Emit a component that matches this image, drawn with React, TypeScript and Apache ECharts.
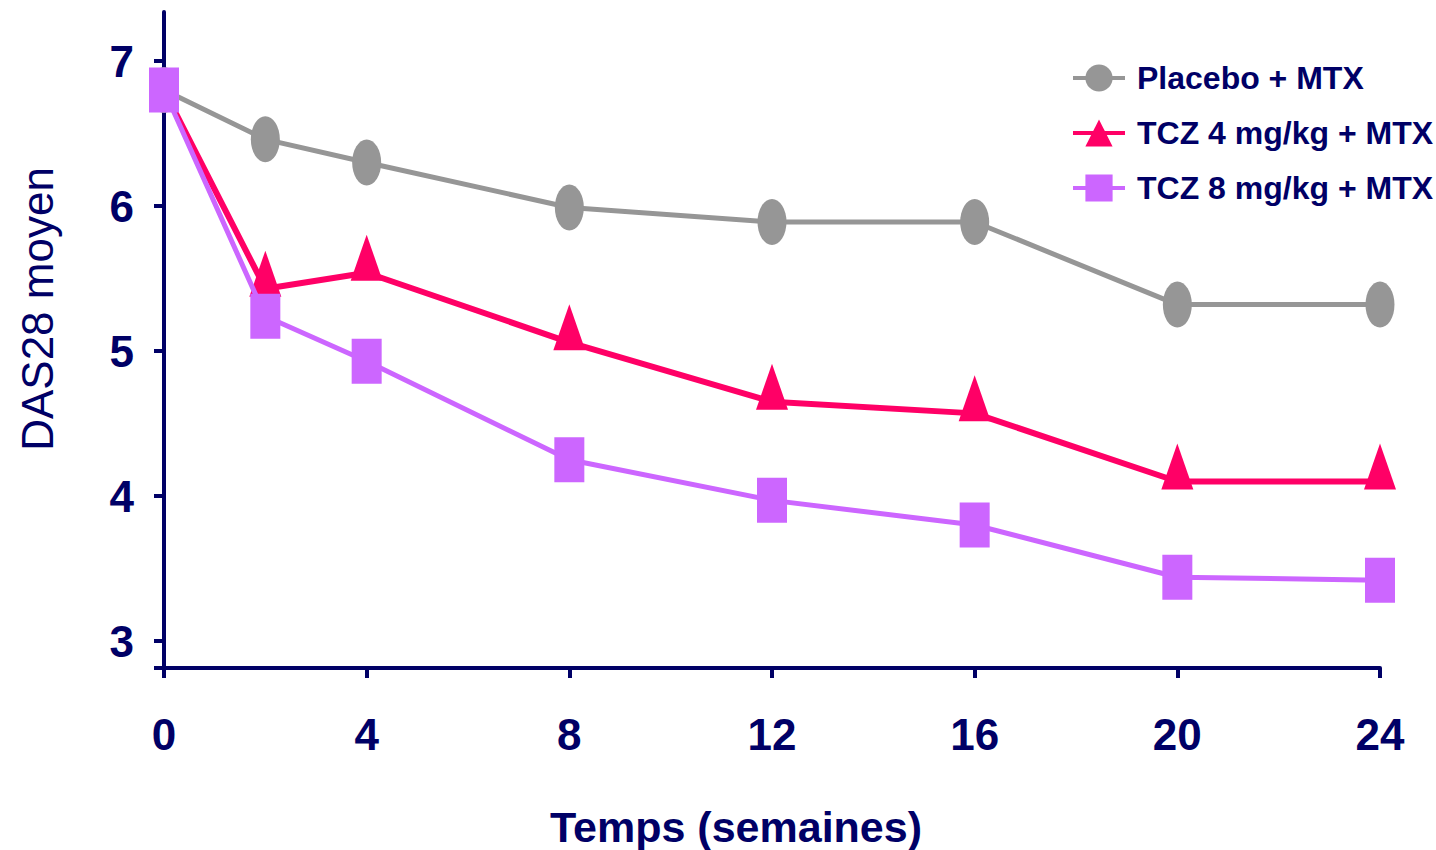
import React, { useEffect, useRef } from "react";
import * as echarts from "echarts";

const weeks = [0, 2, 4, 8, 12, 16, 20, 24];
const placebo = [6.8, 6.46, 6.3, 5.99, 5.89, 5.89, 5.32, 5.32];
const tcz4 = [6.8, 5.43, 5.54, 5.06, 4.65, 4.57, 4.1, 4.1];
const tcz8 = [6.8, 5.24, 4.93, 4.25, 3.97, 3.8, 3.44, 3.42];
const seriesNames = ["Placebo + MTX", "TCZ 4 mg/kg + MTX", "TCZ 8 mg/kg + MTX"];
const yTickLabels = [3, 4, 5, 6, 7];
const xTitle = "Temps (semaines)";
const yTitle = "DAS28 moyen";

const NAVY = "#000066";
const FONT = "Liberation Sans, Arial, sans-serif";
const ELLIPSE = "path://M0,-1 A1,1 0 1,1 0,1 A1,1 0 1,1 0,-1 Z";

export default function App() {
  const ref = useRef<HTMLDivElement>(null);
  useEffect(() => {
    if (!ref.current) return;
    const chart = echarts.init(ref.current, null, { renderer: "svg" });
    const yMin = 2.814;
    const yMax = 7.338;
    chart.setOption({
      animation: false,
      backgroundColor: "#ffffff",
      textStyle: { fontFamily: FONT },
      grid: {
        left: 164,
        right: 56,
        top: 12,
        bottom: 182,
        containLabel: false,
        outerBoundsMode: "none",
      },
      legend: {
        orient: "vertical",
        left: 1071,
        top: 61,
        padding: 0,
        itemWidth: 52,
        itemHeight: 34,
        itemGap: 21,
        lineStyle: { width: 4 },
        data: seriesNames,
        textStyle: {
          fontFamily: FONT,
          fontWeight: "bold",
          fontSize: 32,
          color: NAVY,
          lineHeight: 34,
          padding: [0, 0, 0, 7],
        },
      },
      xAxis: {
        type: "value",
        min: 0,
        max: 24,
        interval: 4,
        axisLine: { show: true, onZero: false, lineStyle: { color: NAVY, width: 4 } },
        axisTick: { show: true, inside: false, length: 10, lineStyle: { color: NAVY, width: 4 } },
        splitLine: { show: false },
        axisLabel: {
          margin: 44,
          fontFamily: FONT,
          fontWeight: "bold",
          fontSize: 44,
          color: NAVY,
        },
      },
      yAxis: {
        type: "value",
        min: yMin,
        max: yMax,
        name: yTitle,
        nameLocation: "middle",
        nameGap: 105,
        nameRotate: 90,
        nameTextStyle: {
          fontFamily: FONT,
          fontSize: 44,
          color: NAVY,
          padding: [0, 0, 0, 62],
        },
        axisLine: { show: true, lineStyle: { color: NAVY, width: 4 } },
        axisTick: {
          show: true,
          inside: false,
          length: 10,
          customValues: [yMin, ...yTickLabels],
          lineStyle: { color: NAVY, width: 4 },
        },
        splitLine: { show: false },
        axisLabel: {
          customValues: yTickLabels,
          margin: 30,
          fontFamily: FONT,
          fontWeight: "bold",
          fontSize: 44,
          color: NAVY,
        },
      },
      graphic: [
        {
          type: "text",
          left: 550,
          top: 805,
          style: {
            text: xTitle,
            fontFamily: FONT,
            fontWeight: "bold",
            fontSize: 43,
            fill: NAVY,
          },
        },
      ],
      series: [
        {
          name: seriesNames[0],
          type: "line",
          data: weeks.map((w, i) => [w, placebo[i]]),
          symbol: ELLIPSE,
          symbolSize: [29, 46],
          color: "#969696",
          itemStyle: { color: "#969696" },
          lineStyle: { color: "#969696", width: 5 },
          z: 2,
        },
        {
          name: seriesNames[1],
          type: "line",
          data: weeks.map((w, i) =>
            i === 0 ? { value: [w, tcz4[i]], symbolSize: 0 } : [w, tcz4[i]]
          ),
          symbol: "triangle",
          symbolSize: [32, 46],
          symbolOffset: [0, -15],
          color: "#FF0066",
          itemStyle: { color: "#FF0066" },
          lineStyle: { color: "#FF0066", width: 6 },
          z: 3,
        },
        {
          name: seriesNames[2],
          type: "line",
          data: weeks.map((w, i) => [w, tcz8[i]]),
          symbol: "rect",
          symbolSize: [30, 45],
          color: "#CC66FF",
          itemStyle: { color: "#CC66FF" },
          lineStyle: { color: "#CC66FF", width: 5 },
          z: 4,
        },
      ],
    });
    return () => chart.dispose();
  }, []);
  return (
    <div
      ref={ref}
      style={{ position: "absolute", left: 0, top: 0, width: 1436, height: 850 }}
    />
  );
}
